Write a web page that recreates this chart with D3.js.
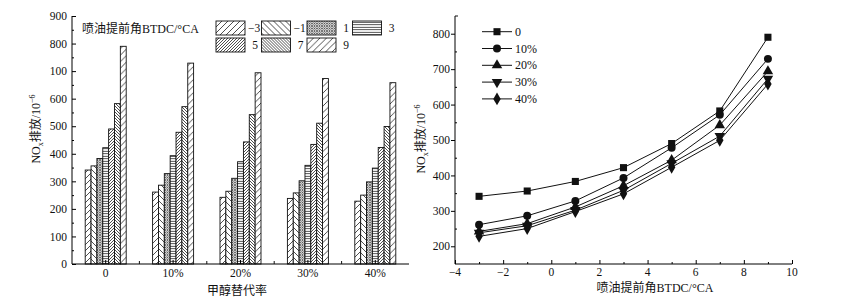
<!DOCTYPE html>
<html>
<head>
<meta charset="utf-8">
<script src="https://cdn.jsdelivr.net/npm/d3@7"></script>
<style>
  body { margin: 0; background: #fff; }
  svg text { font-family: "Liberation Serif", "Noto Sans CJK SC", serif; fill: #111; }
</style>
</head>
<body>
<svg id="chart" width="854" height="300"></svg>
<script>
// data
const rates = ["0", "10%", "20%", "30%", "40%"];
const angles = [-3, -1, 1, 3, 5, 7, 9];
const nox0 = [341, 356, 383, 422, 490, 582, 790];
const nox10 = [261, 286, 328, 393, 478, 571, 729];
const nox20 = [242, 264, 311, 371, 443, 542, 694];
const nox30 = [238, 258, 302, 358, 434, 511, 673];
const nox40 = [228, 250, 298, 348, 423, 499, 658];
const leftTickLabels = ["0", "100", "200", "300", "400", "500", "600", "100", "800", "900"];
const leftTicks = [0, 100, 200, 300, 400, 500, 600, 700, 800, 900];
const rightYTicks = [200, 300, 400, 500, 600, 700, 800];
const rightXTicks = [-4, -2, 0, 2, 4, 6, 8, 10];

const series = [nox0, nox10, nox20, nox30, nox40];

const svg = d3.select("#chart");
const defs = svg.append("defs");

// hatch patterns for the angles
function hatch(id, gap, kind) {
  const p = defs.append("pattern").attr("id", id)
    .attr("patternUnits", "userSpaceOnUse")
    .attr("width", gap).attr("height", gap);
  p.append("rect").attr("width", gap).attr("height", gap).attr("fill", "#fff");
  const g = p.append("g").attr("stroke", "#222").attr("stroke-width", 0.8);
  if (kind == "up") {
    g.append("line").attr("x1", 0).attr("y1", gap).attr("x2", gap).attr("y2", 0);
    g.append("line").attr("x1", -1).attr("y1", 1).attr("x2", 1).attr("y2", -1);
    g.append("line").attr("x1", gap - 1).attr("y1", gap + 1).attr("x2", gap + 1).attr("y2", gap - 1);
  } else if (kind == "down") {
    g.append("line").attr("x1", 0).attr("y1", 0).attr("x2", gap).attr("y2", gap);
    g.append("line").attr("x1", gap - 1).attr("y1", -1).attr("x2", gap + 1).attr("y2", 1);
    g.append("line").attr("x1", -1).attr("y1", gap - 1).attr("x2", 1).attr("y2", gap + 1);
  } else if (kind == "horiz") {
    g.append("line").attr("x1", 0).attr("y1", gap / 2).attr("x2", gap).attr("y2", gap / 2);
  } else if (kind == "cross") {
    g.attr("stroke", "#555");
    g.append("line").attr("x1", 0).attr("y1", 0).attr("x2", gap).attr("y2", gap);
    g.append("line").attr("x1", 0).attr("y1", gap).attr("x2", gap).attr("y2", 0);
  }
}
hatch("p0", 6, "up");
hatch("p1", 6, "down");
hatch("p2", 2.5, "cross");
hatch("p3", 2.5, "horiz");
hatch("p4", 3, "up");
hatch("p5", 3, "down");
hatch("p6", 6.5, "up");
const fills = ["url(#p0)", "url(#p1)", "url(#p2)", "url(#p3)", "url(#p4)", "url(#p5)", "url(#p6)"];

// ---------- left: bar chart ----------
const L = { left: 72, right: 409, top: 16, bottom: 264 };
const x0 = d3.scaleBand().domain(rates).range([L.left, L.right]).padding(0);
const groupW = 41;
const x1 = d3.scaleBand().domain(angles).range([0, groupW]);
const yL = d3.scaleLinear().domain([0, 900]).range([L.bottom, L.top]);

const left = svg.append("g");

const barData = [];
rates.forEach((r, i) => {
  angles.forEach((a, j) => barData.push({ rate: r, angle: a, idx: j, value: series[i][j] }));
});

left.append("g").selectAll("rect")
  .data(barData)
  .enter()
  .append("rect")
  .attr("x", d => x0(d.rate) + (x0.bandwidth() - groupW) / 2 + x1(d.angle))
  .attr("y", d => yL(d.value))
  .attr("width", x1.bandwidth())
  .attr("height", d => L.bottom - yL(d.value))
  .attr("fill", d => fills[d.idx])
  .attr("stroke", "#111")
  .attr("stroke-width", 0.9);

// y axis (ticks inward)
const yAxisL = left.append("g")
  .attr("transform", "translate(" + L.left + ",0)")
  .call(d3.axisRight(yL).tickValues(leftTicks).tickSize(4).tickFormat((d, i) => leftTickLabels[i]));
yAxisL.selectAll("text").attr("x", -5).attr("text-anchor", "end").attr("font-size", 11.5);
yAxisL.select(".domain").attr("d", "M0," + L.top + "V" + L.bottom);
left.append("g")
  .attr("transform", "translate(" + L.left + ",0)")
  .call(d3.axisRight(yL).tickValues(d3.range(50, 900, 100)).tickSize(2).tickFormat(""))
  .select(".domain").remove();

// x axis
const xAxisL = left.append("g")
  .attr("transform", "translate(0," + L.bottom + ")")
  .call(d3.axisTop(x0).tickSize(4).tickFormat(""));
xAxisL.select(".domain").attr("d", "M" + L.left + ",0H" + L.right);
left.append("g")
  .attr("transform", "translate(0," + L.bottom + ")")
  .selectAll("line")
  .data(rates.slice(1))
  .enter()
  .append("line")
  .attr("x1", d => x0(d)).attr("x2", d => x0(d))
  .attr("y1", 0).attr("y2", -3)
  .attr("stroke", "#111");
left.append("g").selectAll("text")
  .data(rates)
  .enter()
  .append("text")
  .attr("x", d => x0(d) + x0.bandwidth() / 2)
  .attr("y", 277)
  .attr("text-anchor", "middle")
  .attr("font-size", 11.5)
  .text(d => d);

left.append("text")
  .attr("x", 237).attr("y", 295)
  .attr("text-anchor", "middle")
  .attr("font-family", "Noto Sans CJK SC")
  .attr("font-size", 12)
  .text("甲醇替代率");

function yLabel(g, x, y) {
  const t = g.append("text")
    .attr("transform", "translate(" + x + "," + y + ") rotate(-90)")
    .attr("text-anchor", "middle")
    .attr("font-size", 12);
  t.append("tspan").text("NO");
  t.append("tspan").attr("font-size", 8).attr("dy", 3).text("x");
  t.append("tspan").attr("dy", -3).attr("font-family", "Noto Sans CJK SC").text("排放");
  t.append("tspan").text("/10");
  t.append("tspan").attr("font-size", 8).attr("dy", -5).text("−6");
}
yLabel(left, 40, 129);

// left legend
left.append("text")
  .attr("x", 82).attr("y", 33)
  .attr("font-size", 12)
  .html('<tspan font-family="Noto Sans CJK SC">喷油提前角</tspan>BTDC/°CA');

const legPos = angles.map((a, i) => ({ angle: a, idx: i, col: i < 4 ? i : i - 4, row: i < 4 ? 0 : 1 }));
const leg = left.append("g").selectAll("g")
  .data(legPos)
  .enter()
  .append("g")
  .attr("transform", d => "translate(" + (216 + d.col * 45.5) + "," + (21 + d.row * 17) + ")");
leg.append("rect")
  .attr("width", 29).attr("height", 14)
  .attr("fill", d => fills[d.idx])
  .attr("stroke", "#111").attr("stroke-width", 0.9);
leg.append("text")
  .attr("x", d => d.angle < 0 ? 32 : 42)
  .attr("y", 11)
  .attr("text-anchor", d => d.angle < 0 ? "start" : "end")
  .attr("font-size", 11.5)
  .text(d => d.angle < 0 ? "−" + Math.abs(d.angle) : d.angle);

// ---------- right: line chart ----------
const R = { left: 455, right: 792, top: 16, bottom: 264 };
const xR = d3.scaleLinear().domain([-4, 10]).range([R.left, R.right]);
const yR = d3.scaleLinear().domain([150, 850]).range([R.bottom, R.top]);
const right = svg.append("g");

const yAxisR = right.append("g")
  .attr("transform", "translate(" + R.left + ",0)")
  .call(d3.axisLeft(yR).tickValues(rightYTicks).tickSize(4));
yAxisR.selectAll("text").attr("font-size", 11.5).attr("x", -5);
yAxisR.select(".domain").attr("d", "M0," + R.top + "V" + R.bottom);
right.append("g")
  .attr("transform", "translate(" + R.left + ",0)")
  .call(d3.axisRight(yR).tickValues(d3.range(250, 850, 100)).tickSize(2).tickFormat(""))
  .select(".domain").remove();
right.append("line")
  .attr("x1", R.left).attr("x2", R.left + 3)
  .attr("y1", R.top).attr("y2", R.top)
  .attr("stroke", "#111");

const xAxisR = right.append("g")
  .attr("transform", "translate(0," + R.bottom + ")")
  .call(d3.axisTop(xR).tickValues(rightXTicks).tickSize(4).tickFormat(""));
xAxisR.select(".domain").attr("d", "M" + R.left + ",0H" + R.right);
right.append("g")
  .attr("transform", "translate(0," + R.bottom + ")")
  .call(d3.axisTop(xR).tickValues(d3.range(-3, 10, 2)).tickSize(2).tickFormat(""))
  .select(".domain").remove();
right.append("g").selectAll("text")
  .data(rightXTicks)
  .enter()
  .append("text")
  .attr("x", d => xR(d))
  .attr("y", 276)
  .attr("text-anchor", "middle")
  .attr("font-size", 11.5)
  .text(d => d < 0 ? "−" + Math.abs(d) : d);

right.append("text")
  .attr("x", 655).attr("y", 292)
  .attr("text-anchor", "middle")
  .attr("font-size", 12)
  .html('<tspan font-family="Noto Sans CJK SC">喷油提前角</tspan>BTDC/°CA');

yLabel(right, 425, 139);

const symbols = [
  d3.symbol().type(d3.symbolSquare).size(50),
  d3.symbol().type(d3.symbolCircle).size(50),
  d3.symbol().type(d3.symbolTriangle).size(48),
  d3.symbol().type(d3.symbolTriangle).size(48),
  d3.symbol().type(d3.symbolDiamond).size(48)
];
const rot = [0, 0, 0, 180, 0];

const line = d3.line().x((d, i) => xR(angles[i])).y(d => yR(d));
series.forEach((s, k) => {
  right.append("path")
    .datum(s)
    .attr("d", line)
    .attr("fill", "none")
    .attr("stroke", "#111")
    .attr("stroke-width", 1);
  right.append("g").selectAll("path")
    .data(s)
    .enter()
    .append("path")
    .attr("d", symbols[k])
    .attr("transform", (d, i) => "translate(" + xR(angles[i]) + "," + yR(d) + ") rotate(" + rot[k] + ")")
    .attr("fill", "#111");
});

// right legend
const legR = right.append("g").selectAll("g")
  .data(rates)
  .enter()
  .append("g")
  .attr("transform", (d, i) => "translate(482," + (31.7 + i * 16.8) + ")");
legR.append("line")
  .attr("x1", 0).attr("x2", 30)
  .attr("stroke", "#111");
legR.append("path")
  .attr("d", (d, i) => symbols[i]())
  .attr("transform", (d, i) => "translate(15,0) rotate(" + rot[i] + ")")
  .attr("fill", "#111");
legR.append("text")
  .attr("x", 33).attr("y", 4)
  .attr("font-size", 12)
  .text(d => d);
</script>
</body>
</html>
